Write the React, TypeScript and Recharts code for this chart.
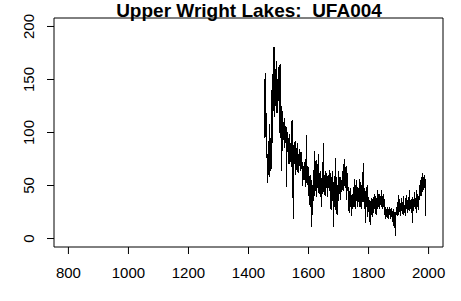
import { LineChart, Line, XAxis, YAxis, ReferenceArea } from "recharts";

// ring-width series, one value every 2 years from 1453
const startYear = 1453;
const yearStep = 2;
const widths = [
  150, 95, 156, 100, 88, 52, 80, 60, 108, 58,
  95, 64, 140, 90, 155, 120, 181, 115, 160, 125,
  167, 118, 150, 130, 162, 100, 165, 95, 125, 64,
  120, 98, 110, 85, 114, 90, 105, 49, 100, 83,
  95, 70, 99, 72, 90, 67, 112, 75, 18, 88,
  70, 92, 60, 85, 65, 90, 62, 80, 68, 84,
  64, 82, 66, 72, 50, 68, 55, 72, 49, 65,
  98, 52, 68, 40, 67, 32, 60, 30, 55, 11,
  50, 35, 65, 40, 83, 45, 74, 39, 70, 48,
  80, 42, 62, 39, 64, 30, 58, 42, 90, 44,
  60, 40, 64, 48, 62, 39, 60, 48, 65, 45,
  62, 27, 58, 35, 64, 11, 55, 30, 76, 27,
  58, 22, 50, 35, 64, 42, 58, 36, 55, 44,
  64, 45, 70, 50, 75, 48, 68, 36, 62, 45,
  49, 24, 45, 30, 48, 21, 42, 28, 49, 30,
  56, 28, 50, 35, 55, 30, 48, 34, 56, 30,
  53, 28, 50, 34, 60, 71, 32, 48, 15, 45,
  30, 50, 20, 39, 25, 36, 13, 35, 22, 38,
  20, 39, 24, 42, 28, 40, 22, 38, 28, 46,
  30, 42, 28, 40, 32, 46, 28, 40, 30, 42,
  22, 30, 18, 28, 20, 30, 18, 28, 22, 30,
  18, 29, 20, 26, 16, 28, 10, 25, 2, 24,
  30, 21, 34, 22, 41, 25, 33, 21, 38, 26,
  34, 22, 40, 24, 32, 21, 41, 28, 36, 24,
  39, 26, 46, 28, 36, 24, 39, 15, 37, 26,
  44, 28, 38, 24, 46, 30, 40, 27, 50, 36,
  55, 40, 58, 44, 62, 46, 60, 48, 56, 21,
];

const xTicks = [800, 1000, 1200, 1400, 1600, 1800, 2000];
const yTicks = [0, 50, 100, 150, 200];

const font = "'Liberation Sans', Arial, sans-serif";

const data = widths.map((w, i) => ({ year: startYear + i * yearStep, w }));

const YTick = (props: any) => {
  const { y, payload } = props;
  return (
    <text
      x={34}
      y={y}
      transform={`rotate(-90, 34, ${y})`}
      textAnchor="middle"
      fontSize={15}
      fontFamily={font}
      fill="#000"
    >
      {payload.value}
    </text>
  );
};

const XTick = (props: any) => {
  const { x, y, payload } = props;
  return (
    <text
      x={x}
      y={y + 24}
      textAnchor="middle"
      fontSize={15}
      fontFamily={font}
      fill="#000"
    >
      {payload.value}
    </text>
  );
};

export default function App() {
  return (
    <div style={{ position: "absolute", left: 0, top: 0, width: 461, height: 301, background: "#fff" }}>
      <svg width={461} height={24} style={{ position: "absolute", left: 0, top: 0 }}>
        <text
          x={249}
          y={17}
          textAnchor="middle"
          fontFamily={font}
          fontWeight="bold"
          fontSize={19}
          fill="#000"
          xmlSpace="preserve"
        >
          {"Upper Wright Lakes:  UFA004"}
        </text>
      </svg>
      <LineChart
        width={461}
        height={301}
        data={data}
        margin={{ top: 18, right: 18, bottom: 0, left: 0 }}
      >
        <XAxis
          dataKey="year"
          type="number"
          domain={[752, 2048]}
          ticks={xTicks}
          allowDataOverflow
          height={54}
          tickSize={7}
          tickMargin={0}
          axisLine={false}
          tickLine={{ stroke: "#000" }}
          tick={<XTick />}
        />
        <YAxis
          type="number"
          domain={[-8, 208]}
          ticks={yTicks}
          allowDataOverflow
          width={54}
          tickSize={7}
          tickMargin={0}
          axisLine={false}
          tickLine={{ stroke: "#000" }}
          tick={<YTick />}
        />
        <ReferenceArea
          x1={752}
          x2={2048}
          y1={-8}
          y2={208}
          fill="none"
          stroke="#000"
          strokeWidth={1}
          ifOverflow="visible"
        />
        <Line
          dataKey="w"
          type="linear"
          stroke="#000"
          strokeWidth={1}
          shapeRendering="crispEdges"
          dot={false}
          isAnimationActive={false}
        />
      </LineChart>
    </div>
  );
}
